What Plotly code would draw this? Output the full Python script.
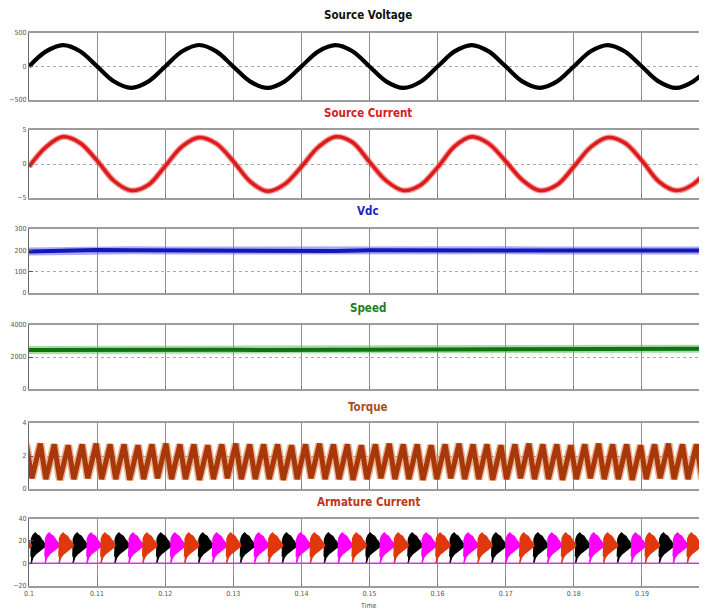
import plotly.graph_objects as go

# ---------------- data ----------------
t_wave = [round(0.1 + 0.0025 * i, 5) for i in range(41)]
v_src = [0, 226, 320, 228, 2, -224, -318, -226, 0, 227, 321, 226, -1, -226, -320, -225,
         1, 226, 319, 227, 0, -225, -320, -227, 0, 226, 320, 226, 1, -226, -319, -226,
         0, 227, 320, 225, 0, -226, -320, -226, 0]
i_src = [-0.4, 2.5, 4.0, 3.1, 0.5, -2.5, -3.9, -3.1, -0.3, 2.6, 3.9, 3.0, 0.4, -2.6, -4.0, -3.0,
         -0.4, 2.5, 4.0, 3.2, 0.3, -2.5, -3.9, -3.1, -0.5, 2.6, 4.0, 3.0, 0.4, -2.4, -3.9, -3.1,
         -0.4, 2.5, 3.9, 3.1, 0.5, -2.6, -3.9, -3.0, -0.4]

t_slow = [round(0.1 + 0.005 * i, 4) for i in range(21)]
vdc = [194, 199, 201, 200, 199, 200, 198, 200, 199, 197, 200, 200, 199, 201, 200, 199,
       200, 198, 200, 200, 199]
speed = [2440, 2450, 2460, 2455, 2450, 2445, 2450, 2440, 2445, 2450, 2455, 2450, 2455,
         2460, 2465, 2470, 2480, 2490, 2500, 2510, 2515]

ripple_period = 0.00205
torque_first_peak = 0.10166
torque_peaks = [2.7, 2.75, 2.7, 2.65, 2.7, 2.75, 2.7, 2.7, 2.65, 2.7, 2.75, 2.7, 2.7, 2.65,
                2.7, 2.75, 2.7, 2.7, 2.7, 2.65, 2.7, 2.75, 2.7, 2.7, 2.65, 2.7, 2.75, 2.7,
                2.7, 2.65, 2.7, 2.75, 2.7, 2.7, 2.65, 2.7, 2.75, 2.7, 2.7, 2.65, 2.7, 2.75,
                2.7, 2.7, 2.65, 2.7, 2.75, 2.7, 2.7, 2.7, 2.7]
torque_troughs = [0.6, 0.65, 0.6, 0.55, 0.6, 0.65, 0.6, 0.6, 0.55, 0.6, 0.65, 0.6, 0.6, 0.55,
                  0.6, 0.65, 0.6, 0.6, 0.6, 0.55, 0.6, 0.65, 0.6, 0.6, 0.55, 0.6, 0.65, 0.6,
                  0.6, 0.55, 0.6, 0.65, 0.6, 0.6, 0.55, 0.6, 0.65, 0.6, 0.6, 0.55, 0.6, 0.65,
                  0.6, 0.6, 0.55, 0.6, 0.65, 0.6, 0.6, 0.6, 0.6]
torque_rise_fraction = 0.6

arm_first_pulse = 0.1003
arm_pulse_count = 50
arm_colors = ["#000000", "#ff00ff", "#e0380c"]
pulse_upper_frac = [0.0, 0.04, 0.15, 0.3, 0.45, 0.6, 0.75, 0.9, 1.0]
pulse_upper = [6, 22, 25, 27, 25, 24, 21, 19, 17]
pulse_lower_frac = [1.0, 0.8, 0.55, 0.3, 0.12, 0.04, 0.0]
pulse_lower = [15, 13, 11, 8, 5, 2, 0]

x_ticks = [0.1, 0.11, 0.12, 0.13, 0.14, 0.15, 0.16, 0.17, 0.18, 0.19]
x_tick_text = ["0.1", "0.11", "0.12", "0.13", "0.14", "0.15", "0.16", "0.17", "0.18", "0.19"]

titles = ["Source Voltage", "Source Current", "Vdc", "Speed", "Torque", "Armature Current"]
title_colors = ["#111111", "#d42020", "#1f1fc0", "#1d7d1d", "#a8501c", "#c23420"]
y_ranges = [[-500, 500], [-5, 5], [0, 300], [0, 4000], [0, 4], [-20, 40]]
y_ticks = [[-500, 0, 500], [-5, 0, 5], [0, 100, 200, 300], [0, 2000, 4000], [0, 2, 4],
           [-20, 0, 20, 40]]

# ---------------- figure ----------------
PAGE_OFF = 8          # default body margin of the page
W, H = 707 - PAGE_OFF, 614 - PAGE_OFF
fig = go.Figure()

def xa(i):
    return "x" if i == 1 else f"x{i}"

def ya(i):
    return "y" if i == 1 else f"y{i}"

# 1 source voltage
fig.add_trace(go.Scatter(x=t_wave, y=v_src, mode="lines", line=dict(color="#000000", width=4.2, shape="spline"),
                         xaxis=xa(1), yaxis=ya(1)))
# 2 source current
fig.add_trace(go.Scatter(x=t_wave, y=i_src, mode="lines", line=dict(color="rgba(235,60,60,0.5)", width=6, shape="spline"),
                         xaxis=xa(2), yaxis=ya(2)))
fig.add_trace(go.Scatter(x=t_wave, y=i_src, mode="lines", line=dict(color="#dc1c1c", width=3.5, shape="spline"),
                         xaxis=xa(2), yaxis=ya(2)))
# 3 Vdc
fig.add_trace(go.Scatter(x=t_slow, y=vdc, mode="lines", line=dict(color="rgba(110,110,255,0.6)", width=8),
                         xaxis=xa(3), yaxis=ya(3)))
fig.add_trace(go.Scatter(x=t_slow, y=vdc, mode="lines", line=dict(color="#1616b8", width=4),
                         xaxis=xa(3), yaxis=ya(3)))
# 4 Speed
fig.add_trace(go.Scatter(x=t_slow, y=speed, mode="lines", line=dict(color="rgba(100,200,100,0.6)", width=8),
                         xaxis=xa(4), yaxis=ya(4)))
fig.add_trace(go.Scatter(x=t_slow, y=speed, mode="lines", line=dict(color="#137013", width=4),
                         xaxis=xa(4), yaxis=ya(4)))
# 5 Torque
tq_t, tq_v = [], []
for k in range(len(torque_peaks)):
    tp = torque_first_peak + (k - 1) * ripple_period
    tq_t.append(tp - torque_rise_fraction * ripple_period)
    tq_v.append(torque_troughs[k])
    tq_t.append(tp)
    tq_v.append(torque_peaks[k])
fig.add_trace(go.Scatter(x=tq_t, y=tq_v, mode="lines", line=dict(color="rgba(215,120,60,0.55)", width=8),
                         xaxis=xa(5), yaxis=ya(5)))
fig.add_trace(go.Scatter(x=tq_t, y=tq_v, mode="lines", line=dict(color="#a8380a", width=5),
                         xaxis=xa(5), yaxis=ya(5)))
# 6 Armature current
for ci, col in enumerate(arm_colors):
    px, py = [], []
    for k in range(-1, arm_pulse_count):
        if k % 3 != ci:
            continue
        t0 = arm_first_pulse + k * ripple_period
        for f, v in zip(pulse_upper_frac, pulse_upper):
            px.append(t0 + f * ripple_period)
            py.append(v)
        for f, v in zip(pulse_lower_frac, pulse_lower):
            px.append(t0 + f * ripple_period)
            py.append(v)
        px.append(None)
        py.append(None)
    fig.add_trace(go.Scatter(x=px, y=py, mode="lines", fill="toself", fillcolor=col,
                             line=dict(color=col, width=1.5), xaxis=xa(6), yaxis=ya(6)))
fig.add_trace(go.Scatter(x=[0.1, 0.2], y=[0, 0], mode="lines", line=dict(color="#c040e0", width=1.5),
                         xaxis=xa(6), yaxis=ya(6)))

# ---------------- layout (positions given in reference page pixels) ----------------
def fx(px_):
    return (px_ - PAGE_OFF) / W

def fy(py_):
    return 1 - (py_ - PAGE_OFF) / H

left_px = 29
x0 = fx(left_px)
x_end = 0.1 + (707 - left_px) / 681.0 * 0.1
panels_px = [(33, 100), (130, 198), (229, 293), (325, 389), (423, 489), (518.5, 585.5)]
title_px = [15, 113, 211, 308, 407, 502]

layout = dict(width=W, height=H, margin=dict(l=0, r=0, t=0, b=0), showlegend=False,
              paper_bgcolor="white", plot_bgcolor="white")
tick_font = dict(family="DejaVu Sans Condensed, Liberation Sans Narrow, Liberation Sans", size=7, color="#555555")
title_family = "DejaVu Sans Condensed, Liberation Sans Narrow, Liberation Sans"
annotations = []
for i in range(1, 7):
    top, bot = panels_px[i - 1]
    dom = [fy(bot), fy(top)]
    layout["xaxis" if i == 1 else f"xaxis{i}"] = dict(
        domain=[x0, 1], range=[0.1, x_end], anchor=ya(i), tickvals=x_ticks, ticktext=x_tick_text,
        showticklabels=(i == 6), showgrid=True, gridcolor="#8c8c8c", gridwidth=1,
        showline=True, linecolor="#9c9c9c", linewidth=2, mirror=True, ticks="inside", ticklen=3,
        tickcolor="#777777", zeroline=False, tickfont=tick_font, fixedrange=True, automargin=False)
    layout["yaxis" if i == 1 else f"yaxis{i}"] = dict(
        domain=dom, range=y_ranges[i - 1], anchor=xa(i), tickvals=y_ticks[i - 1],
        showgrid=True, gridcolor="#a8a8a8", griddash="dot", gridwidth=1,
        showline=True, linecolor="#666666", linewidth=1, ticks="inside", ticklen=4,
        tickcolor="#555555", zeroline=False, tickfont=tick_font, fixedrange=True, automargin=False)
    annotations.append(dict(text=f"<b>{titles[i - 1]}</b>", x=(x0 + 1) / 2, y=fy(title_px[i - 1]),
                            xref="paper", yref="paper", showarrow=False, xanchor="center", yanchor="middle",
                            font=dict(family=title_family, size=11.5, color=title_colors[i - 1])))
annotations.append(dict(text="Time", x=(x0 + 1) / 2, y=fy(606), xref="paper", yref="paper",
                        showarrow=False, xanchor="center", yanchor="middle",
                        font=dict(family=title_family, size=7, color="#555555")))
layout["annotations"] = annotations
fig.update_layout(**layout)
fig.write_html("out.html")
